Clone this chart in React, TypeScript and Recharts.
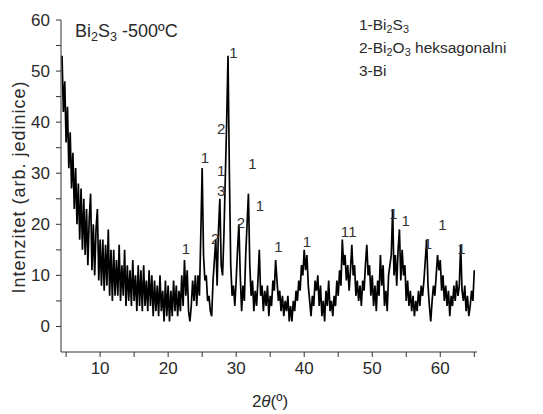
import React from 'react'
import {
  ComposedChart, Line, Scatter, XAxis, YAxis,
} from 'recharts'

// XRD scan sampled every 0.2 deg starting at 4.4 deg
const scanStart = 4.4
const scanStep = 0.2
const intensity = [
  53, 42, 48, 36, 43, 31, 38, 27, 34, 23,
  31, 20, 28, 17, 27, 15, 25, 14, 23, 12,
  21, 26, 11, 20, 10, 19, 23, 9, 17, 8,
  17, 7, 16, 8, 19, 6, 15, 5, 15, 6,
  13, 6, 16, 5, 12, 6, 15, 4, 12, 5,
  11, 4, 13, 5, 10, 3, 12, 4, 11, 3,
  12, 4, 9, 3, 11, 4, 10, 2, 9, 3,
  8, 2, 10, 3, 7, 1, 9, 2, 8, 1,
  7, 2, 9, 3, 8, 2, 7, 3, 10, 4,
  13, 6, 11, 3, 1, 4, 9, 5, 10, 4,
  10, 6, 18, 31, 14, 9, 10, 5, 6, 3,
  2, 9, 13, 17, 8, 19, 25, 12, 10, 18,
  29, 40, 53, 30, 12, 6, 8, 4, 9, 15,
  20, 10, 3, 8, 5, 14, 20, 26, 12, 6,
  9, 3, 7, 4, 9, 15, 6, 8, 3, 7,
  4, 8, 2, 6, 4, 9, 7, 13, 9, 5,
  7, 3, 6, 2, 5, 3, 6, 1, 4, 1,
  5, 3, 7, 5, 9, 7, 12, 10, 15, 11,
  14, 8, 5, 2, 6, 4, 9, 7, 10, 4,
  8, 2, 5, 1, 7, 4, 9, 3, 5, 2,
  6, 4, 9, 6, 11, 8, 17, 12, 14, 9,
  12, 7, 11, 16, 10, 12, 6, 9, 5, 8,
  4, 9, 7, 12, 16, 10, 12, 6, 10, 4,
  8, 3, 9, 6, 14, 8, 12, 4, 7, 3,
  10, 12, 14, 23, 10, 14, 8, 15, 19, 9,
  15, 10, 12, 5, 9, 4, 7, 3, 6, 2,
  5, 3, 7, 4, 8, 6, 9, 13, 17, 8,
  4, 1, 5, 8, 6, 10, 14, 11, 13, 7,
  10, 5, 8, 4, 7, 2, 6, 4, 8, 5,
  9, 6, 8, 16, 7, 5, 8, 3, 6, 2,
  4, 7, 5, 11,
]

// phase markers above the peaks
const peakX = [22.6, 25.4, 26.9, 27.8, 27.8, 27.8, 29.6, 30.7, 32.4, 33.5, 36.2, 40.4, 46.0, 47.1, 53.1, 54.9, 58.2, 60.3, 63.1]
const peakY = [15.3, 33, 17.3, 30.6, 26.7, 38.8, 53.7, 20.4, 32, 23.7, 15.7, 16.7, 18.6, 18.6, 22.2, 20.8, 16.3, 20, 15.3]
const peakText = ['1', '1', '2', '1', '3', '2', '1', '2', '1', '1', '1', '1', '1', '1', '1', '1', '1', '1', '1']

const xTicks = [5, 10, 15, 20, 25, 30, 35, 40, 45, 50, 55, 60, 65]
const yTicks = [0, 5, 10, 15, 20, 25, 30, 35, 40, 45, 50, 55, 60]

const data = intensity.map((v, i) => ({
  twoTheta: +(scanStart + i * scanStep).toFixed(1),
  intensity: v,
}))

const peaks = peakX.map((x, i) => ({ twoTheta: x, mark: peakY[i], text: peakText[i] }))

const font = '"Liberation Sans", Arial, sans-serif'
const textColor = '#2a2a2a'

const Sub = ({ children }: { children: React.ReactNode }) => (
  <span style={{ fontSize: '0.7em', position: 'relative', top: '0.3em' }}>{children}</span>
)

const everyTen = (v: number) => (v % 10 === 0 ? String(v) : '')

const PeakMark = (p: any) => (
  <text
    x={p.cx}
    y={p.cy}
    textAnchor="middle"
    dominantBaseline="central"
    fill="#333"
    fontSize={15}
    fontFamily={font}
  >
    {p.payload.text}
  </text>
)

export default function App() {
  return (
    <div style={{ position: 'absolute', left: 0, top: 0, width: 543, height: 414, background: '#fff', fontFamily: font, color: textColor }}>
      <ComposedChart
        width={543}
        height={414}
        data={data}
        margin={{ top: 20, right: 66, left: 0, bottom: 32 }}
      >
        <XAxis
          type="number"
          dataKey="twoTheta"
          domain={[4.25, 65.4]}
          ticks={xTicks}
          tickFormatter={everyTen}
          allowDataOverflow
          height={30}
          tickSize={5}
          tickMargin={5}
          stroke="#333"
          tick={{ fill: textColor, fontSize: 17, fontFamily: font }}
        />
        <YAxis
          type="number"
          domain={[-5, 60]}
          ticks={yTicks}
          tickFormatter={everyTen}
          allowDataOverflow
          width={61}
          tickSize={5}
          tickMargin={6}
          stroke="#333"
          tick={{ fill: textColor, fontSize: 17, fontFamily: font }}
        />
        <Line
          type="linear"
          dataKey="intensity"
          stroke="#000"
          strokeWidth={1.7}
          dot={false}
          isAnimationActive={false}
        />
        <Scatter
          data={peaks}
          dataKey="mark"
          shape={PeakMark}
          isAnimationActive={false}
        />
      </ComposedChart>

      <div style={{ position: 'absolute', left: 75, top: 21, fontSize: 18, whiteSpace: 'nowrap' }}>
        Bi<Sub>2</Sub>S<Sub>3</Sub> -500ºC
      </div>
      <div style={{ position: 'absolute', left: 359, top: 14, fontSize: 15.5, lineHeight: '21px', whiteSpace: 'nowrap' }}>
        <div>1-Bi<Sub>2</Sub>S<Sub>3</Sub></div>
        <div>2-Bi<Sub>2</Sub>O<Sub>3</Sub> heksagonalni</div>
        <div>3-Bi</div>
      </div>
      <div
        style={{
          position: 'absolute', left: 19, top: 187, fontSize: 18, letterSpacing: 1, whiteSpace: 'nowrap',
          transform: 'translate(-50%, -50%) rotate(-90deg)',
        }}
      >
        Intenzitet (arb. jedinice)
      </div>
      <div style={{ position: 'absolute', left: 270, top: 402, fontSize: 17, whiteSpace: 'nowrap', transform: 'translate(-50%, -50%)' }}>
        2<i>θ</i>(º)
      </div>
    </div>
  )
}
